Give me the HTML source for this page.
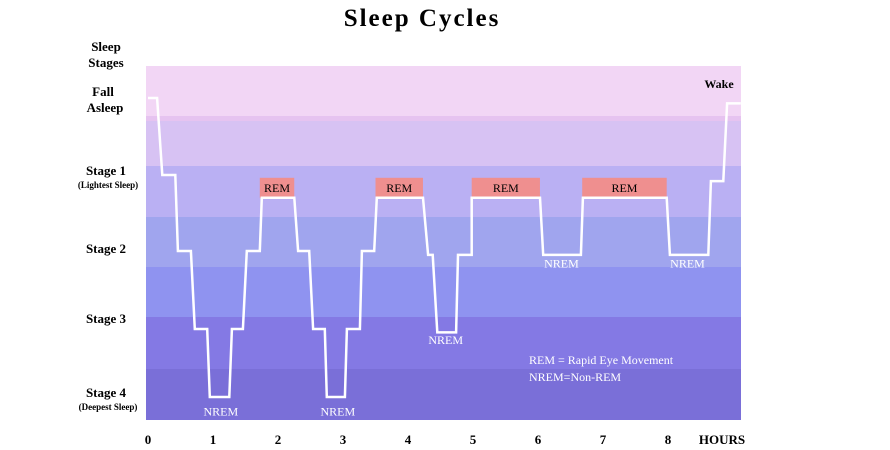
<!DOCTYPE html>
<html><head><meta charset="utf-8"><style>
html,body{margin:0;padding:0;background:#fff;}
svg{display:block;font-family:"Liberation Serif",serif;}
</style></head><body>
<svg id="chart" width="890" height="450" viewBox="0 0 890 450">
<text x="422" y="26" text-anchor="middle" font-size="25" font-weight="bold" letter-spacing="2">Sleep Cycles</text>
<g id="bands"></g>
<g id="rem"></g>
<path id="hyp" fill="none" stroke="#fff" stroke-width="2.5" stroke-linejoin="miter"/>
<g id="labels" font-weight="bold" text-anchor="middle">
<text x="106" y="51" font-size="13">Sleep</text>
<text x="106" y="67" font-size="13">Stages</text>
<text x="103" y="96" font-size="13">Fall</text>
<text x="105" y="112" font-size="13">Asleep</text>
<text x="106" y="175" font-size="13">Stage 1</text>
<text x="108" y="188" font-size="9">(Lightest Sleep)</text>
<text x="106" y="253" font-size="13">Stage 2</text>
<text x="106" y="323" font-size="13">Stage 3</text>
<text x="106" y="397" font-size="13">Stage 4</text>
<text x="108" y="410" font-size="9">(Deepest Sleep)</text>
<text x="719" y="88" font-size="12">Wake</text>
</g>
<g id="xticks" font-weight="bold" font-size="13" text-anchor="middle"></g>
<text x="722" y="444" font-size="13" font-weight="bold" text-anchor="middle">HOURS</text>
<g id="nrem" fill="#fff" font-size="12" text-anchor="middle"></g>
<text x="529" y="364" fill="#fff" font-size="12">REM = Rapid Eye Movement</text>
<text x="529" y="381" fill="#fff" font-size="12">NREM=Non-REM</text>
</svg>
<script>
const hourTicks=[0,1,2,3,4,5,6,7,8];
const times=[0,0.14,0.22,0.42,0.46,0.66,0.72,0.91,0.95,1.25,1.29,1.46,1.52,1.72,1.75,2.25,2.31,2.48,2.54,2.72,2.75,3.03,3.06,3.26,3.29,3.48,3.52,4.23,4.31,4.38,4.45,4.74,4.77,4.98,4.98,6.03,6.08,6.66,6.69,7.98,8.03,8.62,8.66,8.85,8.91,9.12];
const stages=[0,0,1,1,2,2,3,3,4,4,3,3,2,2,1.3,1.3,2,2,3,3,4,4,3,3,2,2,1.3,1.3,2.05,2.05,3.05,3.05,2.05,2.05,1.3,1.3,2.05,2.05,1.3,1.3,2.05,2.05,1.08,1.08,0.07,0.07];
const remStart=[1.72,3.5,4.98,6.68];
const remEnd=[2.25,4.23,6.03,7.98];
const nremTimes=[1.12,2.92,4.58,6.36,8.3];
const nremStages=[4.2,4.2,3.15,2.15,2.15];
const bandTops=[66,121,166,217,267,317,369];
const bandBottoms=[118,166,217,267,317,369,420];
const bandColors=["#f2d6f5","#d7c2f3","#bab0f3","#a0a5ee","#8f93f0","#8479e4","#7a6fd8"];
const ns="http://www.w3.org/2000/svg";
const stageLevels=[98,175,251,329,397];
function x(h){return 148+65*h;}
function y(s){const i=Math.min(3,Math.floor(s));return stageLevels[i]+(stageLevels[i+1]-stageLevels[i])*(s-i);}
const bands=document.getElementById('bands');
bandTops.forEach((t,i)=>{const r=document.createElementNS(ns,'rect');


r.setAttribute('x',146);r.setAttribute('y',t);r.setAttribute('width',595);r.setAttribute('height',bandBottoms[i]-t);r.setAttribute('fill',bandColors[i]);bands.appendChild(r);});
const stripe=document.createElementNS(ns,'rect');


stripe.setAttribute('x',146);stripe.setAttribute('y',116);stripe.setAttribute('width',595);stripe.setAttribute('height',5);stripe.setAttribute('fill','#e6c3f0');bands.appendChild(stripe);
const rem=document.getElementById('rem');
remStart.forEach((s,i)=>{const r=document.createElementNS(ns,'rect');


r.setAttribute('x',x(s));r.setAttribute('y',y(1.3)-20);r.setAttribute('width',x(remEnd[i])-x(s));r.setAttribute('height',20);r.setAttribute('fill','#ef8f8f');rem.appendChild(r);
const t=document.createElementNS(ns,'text');


t.setAttribute('x',(x(s)+x(remEnd[i]))/2);t.setAttribute('y',y(1.3)-6);t.setAttribute('text-anchor','middle');t.setAttribute('font-size','12');t.textContent='REM';rem.appendChild(t);});
document.getElementById('hyp').setAttribute('d',times.map((t,i)=>(i?'L':'M')+x(t).toFixed(1)+','+y(stages[i]).toFixed(1)).join(' '));
const xt=document.getElementById('xticks');
hourTicks.forEach(h=>{const t=document.createElementNS(ns,'text');


t.setAttribute('x',x(h));t.setAttribute('y',444);t.textContent=h;xt.appendChild(t);});
const nr=document.getElementById('nrem');
nremTimes.forEach((h,i)=>{const t=document.createElementNS(ns,'text');


t.setAttribute('x',x(h));t.setAttribute('y',y(nremStages[i])+5);t.textContent='NREM';nr.appendChild(t);});
</script>
</body></html>
